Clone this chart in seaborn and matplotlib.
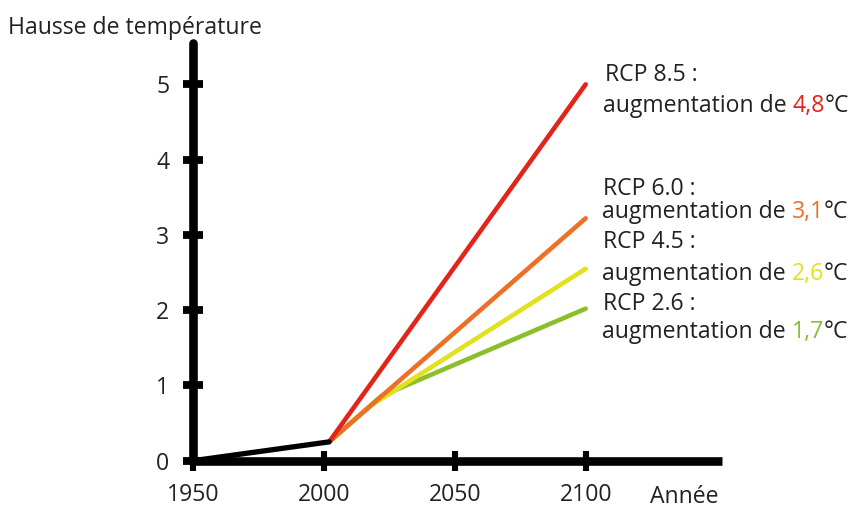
import matplotlib
matplotlib.use("Agg")
import matplotlib.pyplot as plt
import seaborn as sns
import pandas as pd

# ---- data ----
hist_years = [1950, 2002]
hist_temp = [0.0, 0.25]

rcp85_years = [2002, 2100]
rcp85_temp = [0.25, 5.0]
rcp60_years = [2002, 2100]
rcp60_temp = [0.25, 3.22]
rcp45_years = [2002, 2017, 2100]
rcp45_temp = [0.25, 0.71, 2.55]
rcp26_years = [2002, 2022, 2100]
rcp26_temp = [0.25, 0.86, 2.02]

x_ticks = [1950, 2000, 2050, 2100]
y_ticks = [0, 1, 2, 3, 4, 5]

scen_names = ["RCP 8.5 :", "RCP 6.0 :", "RCP 4.5 :", "RCP 2.6 :"]
scen_values = ["4,8", "3,1", "2,6", "1,7"]
scen_colors = ["#e3241b", "#ec7025", "#dfe21c", "#8cbd2a"]

sns.set_style("white")
plt.rcParams["font.family"] = ["Open Sans", "DejaVu Sans"]
FS = 16.6

fig = plt.figure(figsize=(8.57, 5.09), dpi=100)
W, H = 857, 509
x0, x1 = 193, 721.5
y0, y1 = 460.7, 42.8
ax = fig.add_axes([x0 / W, 1 - y0 / H, (x1 - x0) / W, (y0 - y1) / H])
ax.set_xlim(1950, 1950 + (x1 - x0) / 2.618)
ax.set_ylim(0, (y0 - y1) / 75.28)

lw = 3.3
series = [
    (rcp26_years, rcp26_temp, scen_colors[3]),
    (rcp45_years, rcp45_temp, scen_colors[2]),
    (rcp60_years, rcp60_temp, scen_colors[1]),
    (rcp85_years, rcp85_temp, scen_colors[0]),
]
for xs, ys, c in series:
    df = pd.DataFrame({"x": xs, "y": ys})
    sns.lineplot(data=df, x="x", y="y", ax=ax, color=c, lw=lw,
                 solid_capstyle="round", solid_joinstyle="round",
                 clip_on=False, sort=False)
dfh = pd.DataFrame({"x": hist_years, "y": hist_temp})
sns.lineplot(data=dfh, x="x", y="y", ax=ax, color="black", lw=3.8,
             solid_capstyle="round", clip_on=False, sort=False, zorder=3)

for s in ["top", "right"]:
    ax.spines[s].set_visible(False)
for s in ["left", "bottom"]:
    ax.spines[s].set_linewidth(6.2)
    ax.spines[s].set_color("black")
    ax.spines[s].set_zorder(5)
ax.spines["left"].set_capstyle("round")
ax.spines["bottom"].set_capstyle("butt")

ax.set_xticks(x_ticks)
ax.set_yticks(y_ticks)
ax.set_xticklabels([str(v) for v in x_ticks])
ax.set_yticklabels([str(v) for v in y_ticks])
ax.tick_params(axis="x", bottom=True, direction="inout", length=14, width=4.4, color="black",
               labelsize=FS, pad=9, labelcolor="#222222")
ax.tick_params(axis="y", left=True, direction="inout", length=14, width=5.6, color="black",
               labelsize=FS, pad=10, labelcolor="#222222")
ax.set_xlabel("")
ax.set_ylabel("")

fig.text(8 / W, 1 - 28 / H, "Hausse de température", fontsize=FS,
         color="#222222", va="center", ha="left")
fig.text(650 / W, 1 - 503 / H, "Année", fontsize=FS, color="#222222",
         va="baseline", ha="left")

# annotations with coloured values
title_pos = [(605, 80.7), (603, 195), (603, 247.7), (603, 310)]
line_pos = [(603, 111.7), (602, 218), (602, 280), (602, 338)]
fig.canvas.draw()
r = fig.canvas.get_renderer()
for name, val, col, tp, lp in zip(scen_names, scen_values, scen_colors, title_pos, line_pos):
    fig.text(tp[0] / W, 1 - tp[1] / H, name, fontsize=FS, color="#222222",
             va="baseline", ha="left")
    xpx = lp[0]
    for part, c in [("augmentation de ", "#222222"), (val, col), ("°C", "#222222")]:
        t = fig.text(xpx / W, 1 - lp[1] / H, part, fontsize=FS, color=c,
                     va="baseline", ha="left")
        bb = t.get_window_extent(renderer=r)
        xpx += bb.width

fig.savefig("out.png", dpi=100)
